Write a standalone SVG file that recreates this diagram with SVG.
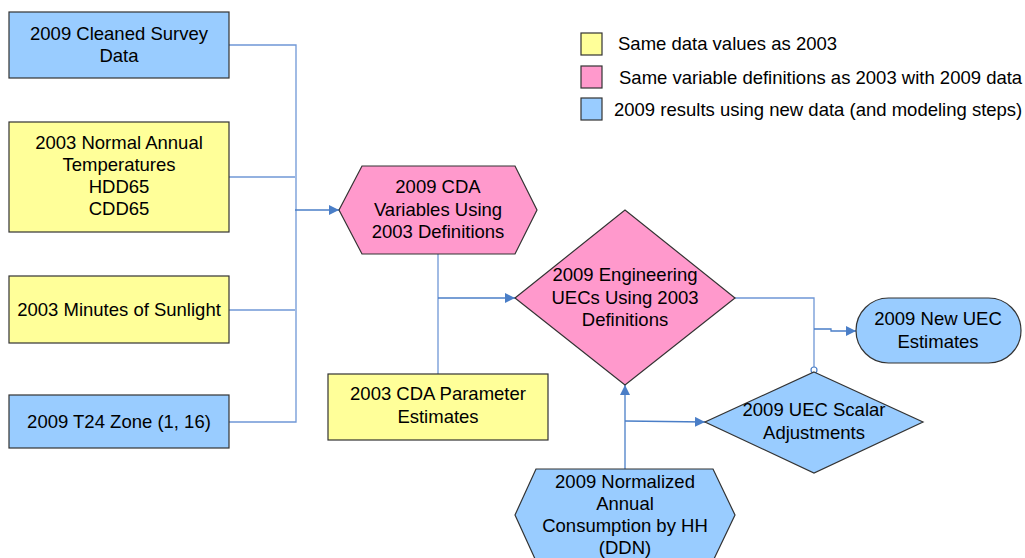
<svg xmlns="http://www.w3.org/2000/svg" width="1025" height="558" viewBox="0 0 1025 558">
<defs>
<marker id="arr" viewBox="0 0 10 10" refX="10" refY="5" markerWidth="10" markerHeight="10" markerUnits="userSpaceOnUse" orient="auto">
<path d="M0,0 L10,5 L0,10 z" fill="#4A7EC7"/>
</marker>
<style>
.blue{fill:#99CCFF;stroke:#333;stroke-width:1.2}
.yel{fill:#FFFF99;stroke:#333;stroke-width:1.2}
.pink{fill:#FF99CC;stroke:#333;stroke-width:1.2}
text{font-family:"Liberation Sans",Arial,sans-serif;font-size:18.5px;fill:#000;text-anchor:middle}
.lg{text-anchor:start}
.c{fill:none;stroke:#6F97D6;stroke-width:1.3}
.ca{fill:none;stroke:#4A7EC7;stroke-width:1.3;marker-end:url(#arr)}
</style>
</defs>
<rect width="1025" height="558" fill="#fff"/>

<g id="legend">
<rect class="yel" x="581" y="33" width="21" height="22"/>
<text class="lg" x="618" y="50">Same data values as 2003</text>
<rect class="pink" x="581" y="66" width="21" height="22"/>
<text class="lg" x="619" y="84">Same variable definitions as 2003 with 2009 data</text>
<rect class="blue" x="581" y="98" width="21" height="22"/>
<text class="lg" x="614" y="116">2009 results using new data (and modeling steps)</text>
</g>

<g id="connectors">
<polyline class="c" points="229,45 296,45 296,422 229,422"/>
<polyline class="c" points="229,177 295,177"/>
<polyline class="c" points="229,310 295,310"/>
<line class="ca" x1="295" y1="210" x2="339" y2="210"/>
<line class="c" x1="438" y1="254" x2="438" y2="374"/>
<line class="ca" x1="438" y1="298" x2="515" y2="298"/>
<polyline class="c" points="735,298 814,298 814,367"/>
<polyline class="ca" points="814,329 831,329 831,331 856,331"/>
<circle cx="814" cy="370" r="3" fill="#fff" stroke="#4A7EC7" stroke-width="1.2"/>
<line class="ca" x1="625" y1="469" x2="625" y2="385"/>
<line class="ca" x1="625" y1="421" x2="705" y2="422"/>
</g>

<g id="n_survey">
<rect class="blue" x="9" y="12" width="220" height="66"/>
<text x="119" y="40">2009 Cleaned Survey</text>
<text x="119" y="62">Data</text>
</g>

<g id="n_temps">
<rect class="yel" x="9" y="122" width="220" height="110"/>
<text x="119" y="149">2003 Normal Annual</text>
<text x="119" y="171">Temperatures</text>
<text x="119" y="193">HDD65</text>
<text x="119" y="215">CDD65</text>
</g>

<g id="n_sun">
<rect class="yel" x="9" y="276" width="220" height="67"/>
<text x="119" y="316">2003 Minutes of Sunlight</text>
</g>

<g id="n_t24">
<rect class="blue" x="9" y="395" width="220" height="53"/>
<text x="119" y="428">2009 T24 Zone (1, 16)</text>
</g>

<g id="n_cda">
<polygon class="pink" points="339,210 362,166 515,166 537,210 515,254 362,254"/>
<text x="438" y="193">2009 CDA</text>
<text x="438" y="216">Variables Using</text>
<text x="438" y="238">2003 Definitions</text>
</g>

<g id="n_param">
<rect class="yel" x="328" y="374" width="220" height="66"/>
<text x="438" y="400">2003 CDA Parameter</text>
<text x="438" y="423">Estimates</text>
</g>

<g id="n_eng">
<polygon class="pink" points="515,298 625,210 735,298 625,385"/>
<text x="625" y="281">2009 Engineering</text>
<text x="625" y="304">UECs Using 2003</text>
<text x="625" y="326">Definitions</text>
</g>

<g id="n_new">
<rect class="blue" x="856" y="298" width="165" height="65" rx="32.5" ry="32.5"/>
<text x="938" y="325">2009 New UEC</text>
<text x="938" y="348">Estimates</text>
</g>

<g id="n_scalar">
<polygon class="blue" points="814,372 923,422 814,473 705,422"/>
<text x="814" y="416">2009 UEC Scalar</text>
<text x="814" y="439">Adjustments</text>
</g>

<g id="n_ddn">
<polygon class="blue" points="515,515 536,469 713,469 735,515 713,561 536,561"/>
<text x="625" y="488">2009 Normalized</text>
<text x="625" y="510">Annual</text>
<text x="625" y="532">Consumption by HH</text>
<text x="625" y="554">(DDN)</text>
</g>
</svg>
